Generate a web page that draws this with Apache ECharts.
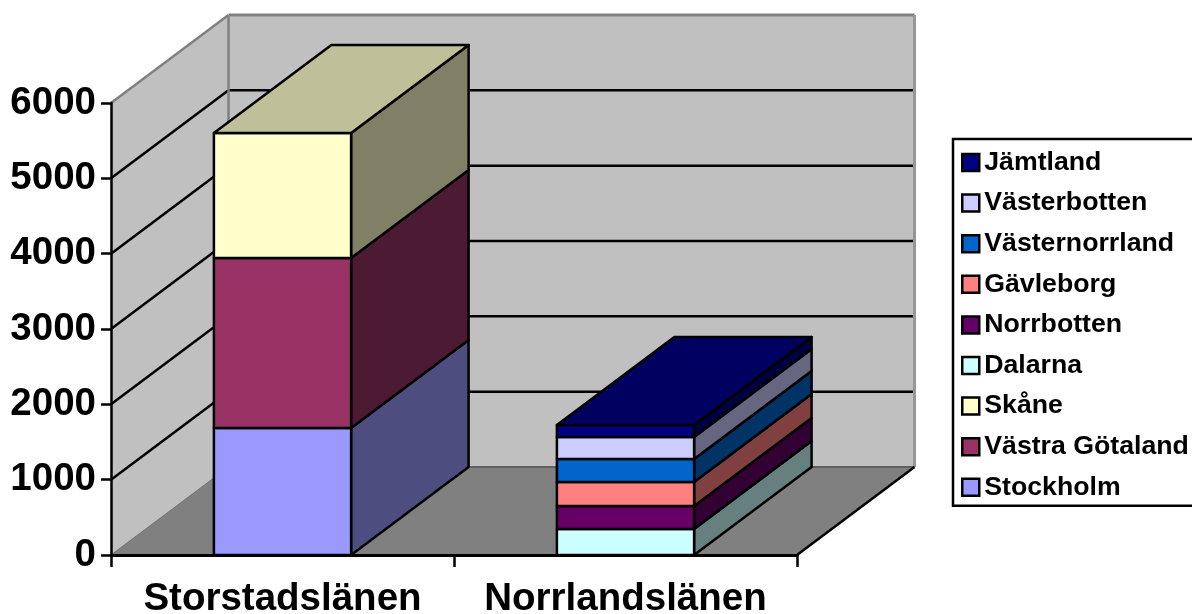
<!DOCTYPE html>
<html>
<head>
<meta charset="utf-8">
<style>
  html, body { margin: 0; padding: 0; background: #fff; overflow: hidden; }
  #chart { width: 1192px; height: 614px; }
</style>
<script src="https://cdn.jsdelivr.net/npm/echarts@6/dist/echarts.min.js"></script>
</head>
<body>
<div id="chart"></div>
<script>
const categories = ['Storstadslänen', 'Norrlandslänen']
const regions = ['Stockholm', 'Västra Götaland', 'Skåne', 'Dalarna', 'Norrbotten', 'Gävleborg', 'Västernorrland', 'Västerbotten', 'Jämtland']
const storstadValues = [1686, 2256, 1660, null, null, null, null, null, null]
const norrlandValues = [null, null, null, 345, 305, 319, 305, 292, 160]
const regionColors = ['#9999FF', '#993366', '#FFFFCC', '#CCFFFF', '#660066', '#FF8080', '#0066CC', '#CCCCFF', '#000080']
const yTicks = [0, 1000, 2000, 3000, 4000, 5000, 6000]

const FONT = '"Liberation Sans", Arial, sans-serif'
const DEPTH_X = 117.5
const DEPTH_Y = -88
const BAR_RATIO = 0.4

const chart = echarts.init(document.getElementById('chart'), null, { renderer: 'canvas' })

const shade = (hex, k) => {
  const n = parseInt(hex.slice(1), 16)
  const c = [n >> 16, (n >> 8) & 255, n & 255].map(v => Math.round(v * k))
  return `rgb(${c[0]},${c[1]},${c[2]})`
}

const back = p => [p[0] + DEPTH_X, p[1] + DEPTH_Y]

// walls, floor and gridlines sit behind the bars
const renderWalls = (params, api) => {
  const rect = params.coordSys
  const x0 = rect.x
  const x1 = rect.x + rect.width
  const origin = api.coord([0, 0])[1]
  const top = api.coord([0, yTicks[yTicks.length - 1]])[1]
  const poly = (points, style) => ({ type: 'polygon', shape: { points }, style })
  const line = (a, b, stroke, lineWidth) => ({
    type: 'line',
    shape: { x1: a[0], y1: a[1], x2: b[0], y2: b[1] },
    style: { stroke, lineWidth }
  })
  const children = [
    poly([[x0, top], back([x0, top]), back([x0, origin]), [x0, origin]], { fill: '#C0C0C0' }),
    poly([back([x0, top]), back([x1, top]), back([x1, origin]), back([x0, origin])], { fill: '#C0C0C0' }),
    poly([[x0, origin], back([x0, origin]), back([x1, origin]), [x1, origin]], { fill: '#808080' })
  ]
  yTicks.slice(1, -1).forEach(t => {
    const y = api.coord([0, t])[1]
    children.push(line([x0, y], back([x0, y]), '#000', 2.5))
    children.push(line(back([x0, y]), back([x1, y]), '#000', 2.5))
  })
  children.push(
    line([x0, top], back([x0, top]), '#808080', 2.5),
    line(back([x0, top]), back([x1, top]), '#808080', 3),
    line(back([x0, top]), back([x0, origin]), '#808080', 2.5),
    line(back([x1, top]), back([x1, origin]), '#969696', 3),
    line(back([x0, origin]), back([x1, origin]), '#606060', 2),
    line([x0, origin], back([x0, origin]), '#6E6E6E', 1),
    line([x1, origin], back([x1, origin]), '#000', 2.5)
  )
  return { type: 'group', children }
}

const columns = [storstadValues, norrlandValues]

const renderBlock = (params, api) => {
  const cat = api.value(0)
  const idx = params.seriesIndex - 1
  const col = columns[cat]
  let base = 0
  for (let i = 0; i < idx; i++) base += col[i] || 0
  const isTop = col.slice(idx + 1).every(v => v == null)
  const center = api.coord([cat, 0])[0]
  const half = api.size([1, 0])[0] * BAR_RATIO / 2
  const yLow = api.coord([cat, base])[1]
  const yHigh = api.coord([cat, base + api.value(1)])[1]
  const a = [center - half, yHigh]
  const b = [center + half, yHigh]
  const c = [center + half, yLow]
  const d = [center - half, yLow]
  const color = regionColors[idx]
  const edge = { stroke: '#000', lineWidth: 2.5, lineJoin: 'round' }
  const children = [
    { type: 'polygon', shape: { points: [b, back(b), back(c), c] }, style: { fill: shade(color, 0.5), ...edge } },
    { type: 'polygon', shape: { points: [a, b, c, d] }, style: { fill: color, ...edge } }
  ]
  if (isTop) {
    children.push({ type: 'polygon', shape: { points: [a, back(a), back(b), b] }, style: { fill: shade(color, 0.75), ...edge } })
  }
  return { type: 'group', children }
}

const blockSeries = regions.map((name, i) => ({
  name,
  type: 'custom',
  z: 3,
  silent: true,
  renderItem: renderBlock,
  encode: { x: 0, y: 1 },
  itemStyle: { color: regionColors[i], borderColor: '#000', borderWidth: 2.5 },
  data: columns.flatMap((col, c) => (col[i] == null ? [] : [[c, col[i]]]))
}))

chart.setOption({
  animation: false,
  backgroundColor: '#fff',
  grid: { left: 111, right: 395, top: 103, bottom: 59, containLabel: false, outerBoundsMode: 'none' },
  legend: {
    orient: 'vertical',
    left: 953,
    top: 139,
    data: regions.slice().reverse(),
    selectedMode: false,
    icon: 'rect',
    itemWidth: 17,
    itemHeight: 17,
    itemGap: 13.6,
    itemStyle: { borderColor: '#000', borderWidth: 2.5 },
    padding: [10, 10, 5, 8],
    borderColor: '#000',
    borderWidth: 2.5,
    backgroundColor: '#fff',
    textStyle: { fontFamily: FONT, fontWeight: 'bold', fontSize: 26.7, color: '#000' }
  },
  xAxis: {
    type: 'category',
    data: categories,
    z: 5,
    axisLine: { lineStyle: { color: '#000', width: 3 } },
    axisTick: { show: true, alignWithLabel: false, interval: 0, length: 12, lineStyle: { color: '#000', width: 2.5 } },
    axisLabel: { interval: 0, hideOverlap: false, fontFamily: FONT, fontWeight: 'bold', fontSize: 38.5, color: '#000', margin: 25 }
  },
  yAxis: {
    type: 'value',
    min: 0,
    max: 6000,
    interval: 1000,
    z: 5,
    axisLine: { show: true, lineStyle: { color: '#000', width: 2.5 } },
    axisTick: { show: true, length: 10, lineStyle: { color: '#000', width: 2.5 } },
    axisLabel: { formatter: v => String(v), fontFamily: FONT, fontWeight: 'bold', fontSize: 38.5, color: '#000', margin: 15, padding: [3, 0, 0, 0] },
    splitLine: { show: false }
  },
  series: [
    { type: 'custom', z: 1, silent: true, renderItem: renderWalls, encode: { x: 0, y: 1 }, data: [[0, 0]] },
    ...blockSeries
  ]
})
</script>
</body>
</html>
